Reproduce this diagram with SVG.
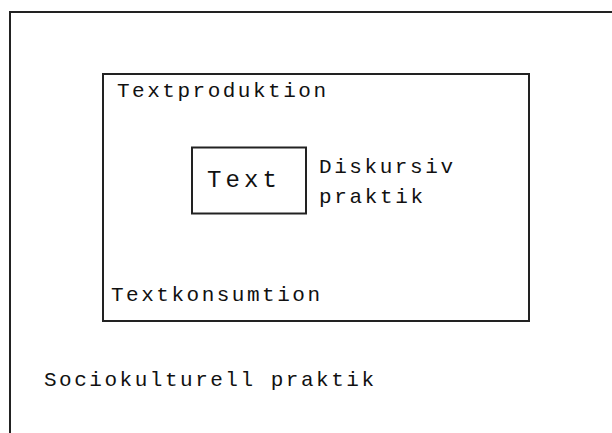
<svg xmlns="http://www.w3.org/2000/svg" width="612" height="433" viewBox="0 0 612 433">
  <style>
    .frame { fill: none; stroke: #222; stroke-width: 2; }
    .lbl { font-family: "Liberation Mono", "DejaVu Sans Mono", monospace; font-size: 21px; fill: #111; }
    .big { font-size: 24px; }
  </style>
  <rect width="612" height="433" fill="#fff"/>
  <!-- outer level: sociocultural practice (runs off the right and bottom) -->
  <g id="sociokulturell">
    <rect class="frame" x="10" y="12" width="640" height="460"/>
    <text class="lbl" x="44" y="386" textLength="330" lengthAdjust="spacing">Sociokulturell praktik</text>
  </g>
  <!-- middle level: discursive practice -->
  <g id="diskursiv">
    <rect class="frame" x="103" y="74" width="426" height="247"/>
    <text class="lbl" x="117" y="97" textLength="209" lengthAdjust="spacing">Textproduktion</text>
    <text class="lbl" x="111" y="301" textLength="209" lengthAdjust="spacing">Textkonsumtion</text>
    <text class="lbl" x="319" y="173" textLength="134" lengthAdjust="spacing">Diskursiv</text>
    <text class="lbl" x="319" y="203" textLength="104" lengthAdjust="spacing">praktik</text>
  </g>
  <!-- inner level: the text itself -->
  <g id="text">
    <rect class="frame" x="192" y="147.5" width="114" height="66"/>
    <text class="lbl big" x="207" y="187" textLength="70" lengthAdjust="spacing">Text</text>
  </g>
  <g id="connectors"/>
</svg>
